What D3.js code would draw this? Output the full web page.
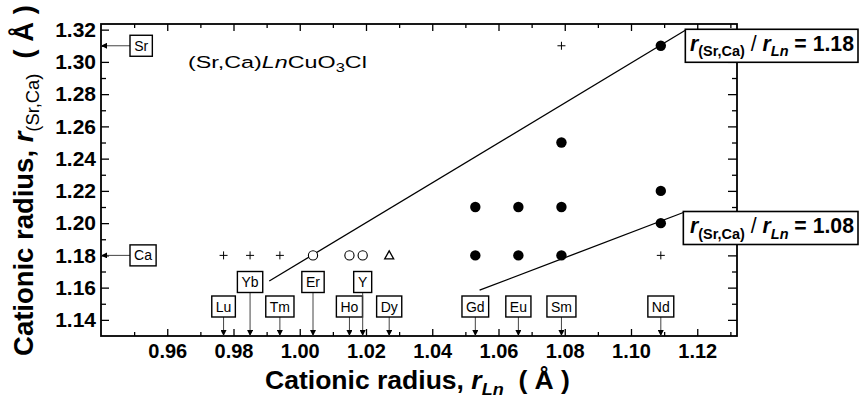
<!DOCTYPE html>
<html>
<head>
<meta charset="utf-8">
<title>(Sr,Ca)LnCuO3Cl</title>
<script src="https://d3js.org/d3.v7.min.js"></script>
<style>
  body { margin: 0; background: #fff; }
  svg { font-family: "Liberation Sans", Arial, Helvetica, sans-serif; }
  .tick text { font-weight: bold; fill: #000; }
  .domain { display: none; }
  .tick line { stroke: #000; stroke-width: 1.3; }
</style>
</head>
<body>
<svg width="859" height="398"></svg>
<script>
// ---- data ----
var lnNames = ["Lu", "Yb", "Tm", "Er", "Ho", "Y", "Dy", "Gd", "Eu", "Sm", "Nd"];
var lnRadii = [0.977, 0.985, 0.994, 1.004, 1.015, 1.019, 1.027, 1.053, 1.066, 1.079, 1.109];
var lnRow = [0, 1, 0, 1, 0, 1, 0, 0, 0, 0, 0];   // 1 = upper row of labels

var aeNames = ["Sr", "Ca"];
var aeRadii = [1.31, 1.18];

// no phase formed
var crossX = [0.977, 0.985, 0.994, 1.079, 1.109];
var crossY = [1.18, 1.18, 1.18, 1.31, 1.18];
// open circles
var openX = [1.004, 1.015, 1.019];
var openY = [1.18, 1.18, 1.18];
// triangle
var triX = [1.027];
var triY = [1.18];
// filled circles
var fillX = [1.053, 1.053, 1.066, 1.066, 1.079, 1.079, 1.079, 1.109, 1.109, 1.109];
var fillY = [1.18, 1.21, 1.18, 1.21, 1.18, 1.21, 1.25, 1.20, 1.22, 1.31];

// guide lines (start / end in data units)
var line118X = [0.9908, 1.1164];
var line118Y = [1.1641, 1.3196];
var line108X = [1.0543, 1.1158];
var line108Y = [1.1584, 1.2066];
var ratioLabels = ["1.18", "1.08"];

var xTicks = [0.96, 0.98, 1.00, 1.02, 1.04, 1.06, 1.08, 1.10, 1.12];
var xMinor = [0.95, 0.97, 0.99, 1.01, 1.03, 1.05, 1.07, 1.09, 1.11, 1.13];
var yTicks = [1.14, 1.16, 1.18, 1.20, 1.22, 1.24, 1.26, 1.28, 1.30, 1.32];
var yMinor = [1.15, 1.17, 1.19, 1.21, 1.23, 1.25, 1.27, 1.29, 1.31];

// ---- chart ----
var svg = d3.select("svg");
var pLeft = 101, pRight = 737, pTop = 24, pBottom = 336;

var x = d3.scaleLinear().domain([0.94, 1.132]).range([pLeft, pRight]);
var y = d3.scaleLinear().domain([1.13, 1.3235]).range([pBottom, pTop]);

var defs = svg.append("defs");
defs.append("marker")
    .attr("id", "head")
    .attr("markerUnits", "userSpaceOnUse")
    .attr("viewBox", "0 0 10 10")
    .attr("refX", 10).attr("refY", 5)
    .attr("markerWidth", 9).attr("markerHeight", 6)
    .attr("orient", "auto")
  .append("path")
    .attr("d", "M0,0 L10,5 L0,10 Z")
    .attr("fill", "#000");

// axes (ticks pointing inward)
var fmt = d3.format(".2f");
svg.append("g").attr("transform", "translate(0," + pBottom + ")")
    .call(d3.axisBottom(x).tickValues(xTicks).tickSize(-7).tickPadding(8).tickFormat(fmt))
    .selectAll("text").style("font-size", "20px");
svg.append("g").attr("transform", "translate(0," + pBottom + ")")
    .call(d3.axisBottom(x).tickValues(xMinor).tickSize(-4).tickFormat(""));
svg.append("g").attr("transform", "translate(0," + pTop + ")")
    .call(d3.axisTop(x).tickValues(xTicks).tickSize(-7).tickFormat(""));
svg.append("g").attr("transform", "translate(0," + pTop + ")")
    .call(d3.axisTop(x).tickValues(xMinor).tickSize(-4).tickFormat(""));

svg.append("g").attr("transform", "translate(" + pLeft + ",0)")
    .call(d3.axisLeft(y).tickValues(yTicks).tickSize(-8).tickPadding(5).tickFormat(fmt))
    .selectAll("text").style("font-size", "21px");
svg.append("g").attr("transform", "translate(" + pLeft + ",0)")
    .call(d3.axisLeft(y).tickValues(yMinor).tickSize(-5).tickFormat(""));
svg.append("g").attr("transform", "translate(" + pRight + ",0)")
    .call(d3.axisRight(y).tickValues(yTicks).tickSize(-9).tickFormat(""));
svg.append("g").attr("transform", "translate(" + pRight + ",0)")
    .call(d3.axisRight(y).tickValues(yMinor).tickSize(-5).tickFormat(""));

svg.append("rect")
    .attr("x", pLeft).attr("y", pTop)
    .attr("width", pRight - pLeft).attr("height", pBottom - pTop)
    .attr("fill", "none").attr("stroke", "#000").attr("stroke-width", 1.8);

// squeeze a text horizontally so it spans the wanted width
function fit(t, w, tf) {
  var bw = t.node().getBBox().width;
  t.attr("transform", tf + " scale(" + (w / bw) + ",1)");
}

// guide lines
var line = d3.line().x(function (d) { return x(d[0]); }).y(function (d) { return y(d[1]); });
[[line118X, line118Y], [line108X, line108Y]].forEach(function (l) {
  svg.append("path")
      .attr("d", line(d3.zip(l[0], l[1])))
      .attr("fill", "none").attr("stroke", "#000").attr("stroke-width", 1.3);
});

// markers
svg.selectAll(".cross").data(d3.zip(crossX, crossY)).enter().append("path")
    .attr("d", function (d) {
      var cx = x(d[0]), cy = y(d[1]);
      return "M" + (cx - 4) + "," + cy + "H" + (cx + 4) + "M" + cx + "," + (cy - 4) + "V" + (cy + 4);
    })
    .attr("stroke", "#000").attr("stroke-width", 1);

svg.selectAll(".open").data(d3.zip(openX, openY)).enter().append("circle")
    .attr("cx", function (d) { return x(d[0]); })
    .attr("cy", function (d) { return y(d[1]); })
    .attr("r", 4.6).attr("fill", "#fff").attr("stroke", "#000").attr("stroke-width", 1.1);

svg.selectAll(".tri").data(d3.zip(triX, triY)).enter().append("path")
    .attr("d", function (d) {
      var cx = x(d[0]), cy = y(d[1]);
      return "M" + cx + "," + (cy - 4.5) + "L" + (cx + 4.5) + "," + (cy + 3.5) + "L" + (cx - 4.5) + "," + (cy + 3.5) + "Z";
    })
    .attr("fill", "none").attr("stroke", "#000").attr("stroke-width", 1.3);

svg.selectAll(".dot").data(d3.zip(fillX, fillY)).enter().append("circle")
    .attr("cx", function (d) { return x(d[0]); })
    .attr("cy", function (d) { return y(d[1]); })
    .attr("r", 5.2).attr("fill", "#000");

// small boxed labels, centred on (cx, cy)
function boxLabel(name, cx, cy) {
  var g = svg.append("g");
  var t = g.append("text").attr("x", cx).attr("y", cy + 5)
      .attr("text-anchor", "middle").style("font-size", "14px").text(name);
  var bw = t.node().getBBox().width + 8;
  g.insert("rect", "text")
      .attr("x", cx - bw / 2).attr("y", cy - 10.5)
      .attr("width", bw).attr("height", 21)
      .attr("fill", "#fff").attr("stroke", "#000").attr("stroke-width", 1.4);
  return g;
}

lnNames.forEach(function (n, i) {
  var cx = x(lnRadii[i]);
  var cy = lnRow[i] ? 282 : 306.5;
  svg.append("line")
      .attr("x1", cx).attr("x2", cx)
      .attr("y1", cy + 10.5).attr("y2", pBottom)
      .attr("stroke", "#444").attr("stroke-width", 1)
      .attr("marker-end", "url(#head)");
  boxLabel(n, cx, cy);
});

aeNames.forEach(function (n, i) {
  var cy = y(aeRadii[i]);
  svg.append("line")
      .attr("x1", 130).attr("x2", pLeft)
      .attr("y1", cy).attr("y2", cy)
      .attr("stroke", "#444").attr("stroke-width", 1)
      .attr("marker-end", "url(#head)");
  var g = boxLabel(n, 0, cy);
  var bw = +g.select("rect").attr("width");
  g.attr("transform", "translate(" + (130 + bw / 2) + ",0)");
});

// ratio boxes at the end of the guide lines
[[line118X, line118Y], [line108X, line108Y]].forEach(function (l, i) {
  var bx = x(l[0][1]), by = y(l[1][1]);
  svg.append("rect")
      .attr("x", bx).attr("y", by - 1)
      .attr("width", 858 - bx).attr("height", 33)
      .attr("fill", "#fff").attr("stroke", "#000").attr("stroke-width", 1.6);
  var t = svg.append("text").style("font-size", "22px").style("font-weight", "bold");
  t.append("tspan").style("font-style", "italic").text("r");
  t.append("tspan").attr("dy", 5).style("font-size", "15px").text("(Sr,Ca)");
  t.append("tspan").attr("dy", -5).style("font-weight", "normal").text("\u00a0/\u00a0");
  t.append("tspan").style("font-style", "italic").text("r");
  t.append("tspan").attr("dy", 5).style("font-size", "15px").style("font-style", "italic").text("Ln");
  t.append("tspan").attr("dy", -5).text("\u00a0=\u00a0" + ratioLabels[i]);
  fit(t, 164, "translate(690," + (by + 21) + ")");
});

// compound title
var title = svg.append("text").style("font-size", "17px");
title.append("tspan").text("(Sr,Ca)");
title.append("tspan").style("font-style", "italic").text("Ln");
title.append("tspan").text("CuO");
title.append("tspan").attr("dy", 4).style("font-size", "12px").text("3");
title.append("tspan").attr("dy", -4).text("Cl");
fit(title, 179, "translate(188,68)");

// x axis title
var xt = svg.append("text").attr("text-anchor", "middle")
    .style("font-size", "25px").style("font-weight", "bold");
xt.append("tspan").text("Cationic radius,\u00a0");
xt.append("tspan").style("font-style", "italic").text("r");
xt.append("tspan").attr("dy", 6).style("font-size", "17px").style("font-style", "italic").text("Ln");
xt.append("tspan").attr("dy", -6).text("\u00a0\u00a0(\u00a0\u00c5\u00a0)");
fit(xt, 305, "translate(417.5,389)");

// y axis title
var yt = svg.append("text").attr("text-anchor", "middle")
    .style("font-size", "27px").style("font-weight", "bold");
yt.append("tspan").text("Cationic radius,\u00a0");
yt.append("tspan").style("font-style", "italic").text("r");
yt.append("tspan").attr("dy", 6).style("font-size", "18px").style("font-weight", "normal").text("(Sr,Ca)");
yt.append("tspan").attr("dy", -6).text("\u00a0\u00a0(\u00a0\u00c5\u00a0)");
fit(yt, 351, "translate(33,180.5) rotate(-90)");
</script>
</body>
</html>
